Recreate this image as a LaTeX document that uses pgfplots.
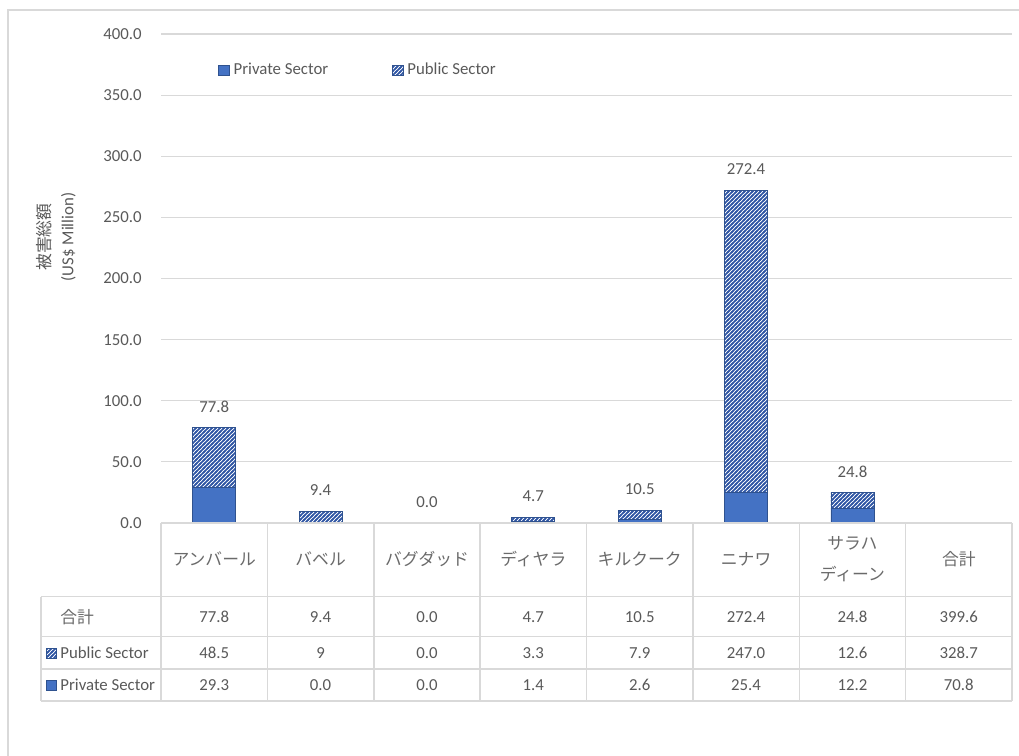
\documentclass[border=0pt]{standalone}
\usepackage{fontspec}
\setmainfont{Carlito}
\newfontfamily\cjk{Noto Sans CJK JP}
\usepackage{pgfplots}
\usepackage{pgfplotstable}
\pgfplotsset{compat=1.18}
\usetikzlibrary{patterns}
\definecolor{pblue}{HTML}{4472C4}
\definecolor{pedge}{HTML}{2F528F}
\definecolor{stripe}{HTML}{2F55A4}
\definecolor{txt}{HTML}{595959}
\definecolor{jtxt}{HTML}{6A6A6A}
\definecolor{gridc}{HTML}{D9D9D9}
\pgfdeclarepatternformonly{nestripes}{\pgfqpoint{-1pt}{-1pt}}{\pgfqpoint{3pt}{3pt}}{\pgfqpoint{2pt}{2pt}}{%
  \pgfsetlinewidth{0.85pt}\pgfpathmoveto{\pgfqpoint{-0.5pt}{-0.5pt}}\pgfpathlineto{\pgfqpoint{2.5pt}{2.5pt}}\pgfusepath{stroke}}
\newcommand\fs{\fontsize{8.4}{10}\selectfont}

\pgfplotstableread{
x y
0 29.3
1 0.0
2 0.0
3 1.4
4 2.6
5 25.4
6 12.2
}\privdata
\pgfplotstableread{
x y total
0 48.5 77.8
1 9.4 9.4
2 0.0 0.0
3 3.3 4.7
4 7.9 10.5
5 247.0 272.4
6 12.6 24.8
}\pubdata

\pgfplotsset{
  base/.style={
    at={(80.5pt,-261.5pt)}, anchor=south west,
    scale only axis, width=425.5pt, height=244.5pt,
    xmin=-0.5, xmax=7.5, ymin=0, ymax=400,
    clip=false,
  }
}

\begin{document}
\begin{tikzpicture}
\begin{scope}[x=0.5pt,y=-0.5pt]
  \useasboundingbox (0,0) rectangle (1019,756);
  \draw[gridc, line width=0.75pt] (8,756) -- (8,10) -- (1019,10);
\end{scope}
\begin{axis}[
  base,
  ybar stacked, bar width=21.5pt,
  ytick={0,50,...,400},
  xtick=\empty,
  ymajorgrids, grid style={gridc, line width=0.6pt},
  axis line style={draw=none},
  major tick length=0pt,
  tick style={draw=none},
  yticklabel style={font=\fs, text=txt, inner sep=0pt, xshift=-9.5pt},
  /pgf/number format/.cd, fixed, fixed zerofill, precision=1, assume math mode=true,
  /pgfplots/.cd,
  legend style={draw=none, fill=none, at={(0.067,0.926)}, anchor=west,
    legend columns=2, font=\fs, text=txt, inner sep=0pt,
    /tikz/every even column/.append style={column sep=30pt},
    /tikz/every odd column/.append style={column sep=0pt}},
  legend image code/.code={\draw[#1,line width=0.4pt] (0pt,-2.6pt) rectangle (5.2pt,2.6pt);},
]
\addplot[fill=pblue, draw=pedge, line width=0.4pt] table[x=x,y=y]{\privdata};
\addlegendentry{Private Sector}
\addplot[fill=white, draw=pedge, line width=0.4pt,
  postaction={pattern=nestripes, pattern color=stripe}]
  table[x=x,y=y]{\pubdata};
\addlegendentry{Public Sector}
\end{axis}
\begin{axis}[base, hide axis]
\addplot[draw=none, mark=none, point meta=explicit,
  nodes near coords={\pgfmathprintnumber[fixed,fixed zerofill,precision=1,assume math mode=true]{\pgfplotspointmeta}},
  every node near coord/.append style={anchor=south, inner sep=0pt, yshift=7.5pt, font=\fs, text=txt}]
  table[x=x,y=total,meta=total]{\pubdata};
\end{axis}
\begin{scope}[x=0.5pt,y=-0.5pt]
  % y label
  \node[rotate=90, align=center, font=\fs, text=txt] at (56,237) {{\cjk 被害総額}\\[1.5pt](US\$ Million)};
  % table grid
  \begin{scope}[draw=gridc, line width=0.75pt]
    \draw (161,523) -- (1012,523);
    \foreach \yy in {596.7,636.7,669,701} \draw (41,\yy) -- (1012,\yy);
    \draw (41,596.7) -- (41,701);
    \foreach \xx in {161,267.4,373.8,480.1,586.5,692.9,799.3,905.6,1012} \draw (\xx,523) -- (\xx,701);
  \end{scope}
  % header labels
  \begin{scope}[font=\fs\cjk, text=jtxt]
    \node at (214.2,559) {アンバール};
    \node at (320.6,559) {バベル};
    \node at (427.0,559) {バグダッド};
    \node at (533.3,559) {ディヤラ};
    \node at (639.7,559) {キルクーク};
    \node at (746.1,559) {ニナワ};
    \node at (852.4,543) {サラハ};
    \node at (852.4,574) {ディーン};
    \node at (958.8,559) {合計};
  \end{scope}
  % row labels
  \node[anchor=west, inner sep=0pt, font=\fs\cjk, text=jtxt] at (60,616.7) {合計};
  \fill[white] (46,648) rectangle (56,658);
  \fill[pattern=nestripes, pattern color=stripe] (46,648) rectangle (56,658);
  \draw[pedge, line width=0.4pt] (46,648) rectangle (56,658);
  \node[anchor=west, inner sep=0pt, font=\fs, text=txt] at (60,653) {Public Sector};
  \draw[pedge, fill=pblue, line width=0.4pt] (46,680) rectangle (56,690);
  \node[anchor=west, inner sep=0pt, font=\fs, text=txt] at (60,685) {Private Sector};
  % values
  \begin{scope}[font=\fs, text=txt]
    \foreach \xx/\a/\b/\c in {214.2/77.8/48.5/29.3, 320.6/9.4/9/0.0, 427.0/0.0/0.0/0.0,
        533.3/4.7/3.3/1.4, 639.7/10.5/7.9/2.6, 746.1/272.4/247.0/25.4,
        852.4/24.8/12.6/12.2, 958.8/399.6/328.7/70.8} {
      \node at (\xx,616.7) {\a};
      \node at (\xx,653) {\b};
      \node at (\xx,685) {\c};
    }
  \end{scope}
\end{scope}
\end{tikzpicture}
\end{document}
